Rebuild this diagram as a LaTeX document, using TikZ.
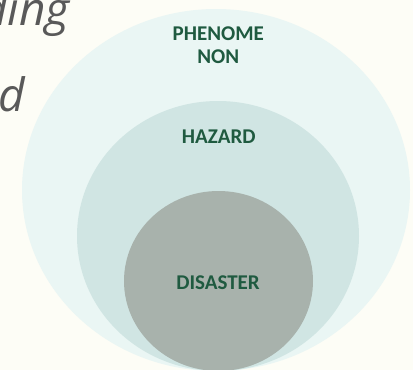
\documentclass[tikz,border=0pt]{standalone}
\usepackage{fontspec}
\setmainfont{Carlito}
\newfontfamily\bodyfont{Open Sans}
\usetikzlibrary{shapes.geometric}
\definecolor{pagebg}{RGB}{253,253,246}
\definecolor{ringA}{RGB}{234,246,244}
\definecolor{ringB}{RGB}{208,229,227}
\definecolor{ringC}{RGB}{168,178,172}
\definecolor{labelgreen}{RGB}{31,90,64}
\definecolor{bodygray}{RGB}{89,89,89}
\tikzset{
  ring/.style={ellipse, draw=none, inner sep=0pt},
  ringlabel/.style={font=\fontsize{21}{23}\selectfont\bfseries, text=labelgreen, align=center, inner sep=0pt},
  bodytext/.style={font=\bodyfont\itshape\fontsize{46}{52}\selectfont, text=bodygray, inner sep=0pt, anchor=base east}
}
\begin{document}
\begin{tikzpicture}[x=1pt,y=-1pt]
  \useasboundingbox (0,0) rectangle (413,370);
  \clip (0,0) rectangle (413,370);
  \fill[pagebg] (0,0) rectangle (413,370);
  % running text of the slide, cut off at the left edge
  \node[bodytext] (line1) at (70,25) {Understanding};
  \node[bodytext] (line2) at (25,111) {and};
  % nested ellipses, all touching at the bottom
  \node[ring, fill=ringA, minimum width=388, minimum height=362] (phen) at (216,190) {};
  \node[ring, fill=ringB, minimum width=282, minimum height=270] (haz) at (218,236) {};
  \node[ring, fill=ringC, minimum width=189, minimum height=180] (dis) at (218.5,281) {};
  % labels
  \node[ringlabel] (lphen) at (218.3,45.5) {PHENOME\\NON};
  \node[ringlabel] (lhaz) at (218.8,136.5) {HAZARD};
  \node[ringlabel] (ldis) at (218,282.7) {DISASTER};
\end{tikzpicture}
\end{document}
